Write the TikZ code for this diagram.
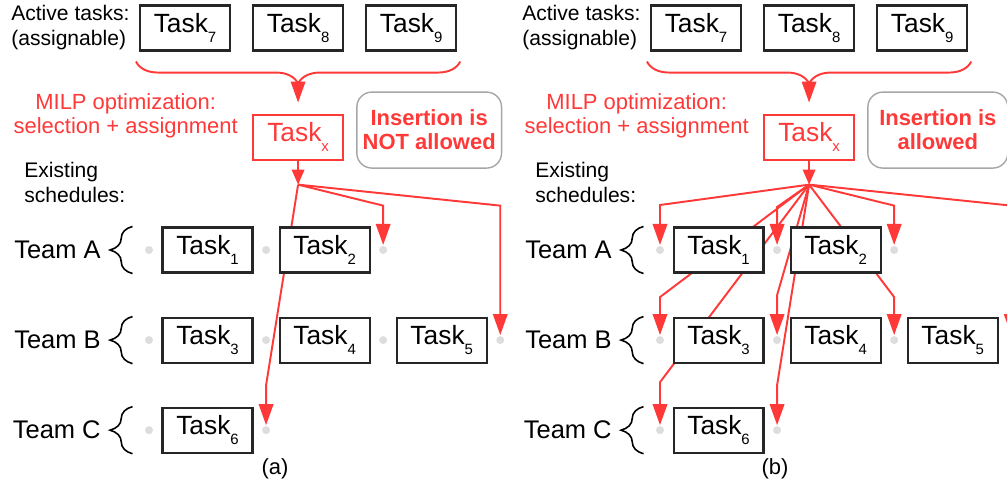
\documentclass[tikz,border=0pt]{standalone}
\usepackage{fontspec}
\setmainfont{Liberation Sans}
\usetikzlibrary{matrix,positioning,calc,arrows.meta,decorations.pathreplacing}
\definecolor{milp}{RGB}{255,56,56}
\definecolor{slotgray}{RGB}{221,221,221}
\newcommand{\tsk}[1]{Task\raisebox{-0.38em}{\fontsize{8.5}{9}\selectfont#1}}
\pgfdeclarelayer{back}
\pgfsetlayers{back,main}

\begin{document}
\begin{tikzpicture}[x=0.02cm,y=-0.02cm,
	task/.style={draw=black!85,line width=1.2pt,fill=white,minimum width=1.8cm,minimum height=0.9cm,inner sep=1pt,font=\fontsize{15}{18}\selectfont},
	slot/.style={circle,draw=none,fill=slotgray,minimum size=0.16cm,inner sep=0pt},
	lbl/.style={font=\fontsize{12}{14.2}\selectfont,align=left,inner sep=0pt},
	team/.style={font=\fontsize{14.5}{17}\selectfont,inner sep=0pt},
	ins/.style={draw=milp,line width=1.1pt,-{Triangle[length=0.42cm,width=0.29cm]}},
	teambrace/.style={decorate,decoration={brace,amplitude=0.45cm},line width=0.9pt}]
\useasboundingbox (0,0) rectangle (1007,486);
\foreach \p/\dx/\ok/\lx in {a/0/NOT allowed/275,b/511/allowed/775}{
	% active tasks
	\matrix (t\p) [matrix of nodes,nodes={task,anchor=center},column sep=0.42cm,ampersand replacement=\&,matrix anchor=t\p-1-1.center] at (\dx+185,28)
	{ \tsk{7} \& \tsk{8} \& \tsk{9} \\ };
	\node[lbl,anchor=east] (\p-act) at ($(t\p-1-1.west)+(-9,0)$) {Active tasks:\\(assignable)};
	% existing schedules
	\matrix (s\p) [matrix of nodes,nodes={task,anchor=center},column sep=0.17cm,row sep=0.86cm,ampersand replacement=\&,matrix anchor=s\p-1-1.center] at (\dx+149,250)
	{
		|[slot]| \& \tsk{1} \& |[slot]| \& \tsk{2} \& |[slot]| \\
		|[slot]| \& \tsk{3} \& |[slot]| \& \tsk{4} \& |[slot]| \& \tsk{5} \& |[slot]| \\
		|[slot]| \& \tsk{6} \& |[slot]| \\
	};
	\node[lbl,anchor=west] (\p-exist) at (\dx+24,182) {Existing\\schedules:};
	\foreach \r/\tm in {1/A,2/B,3/C}{
		\node[team,anchor=east] (\p-team\tm) at ($(s\p-\r-1)+(-48,0)$) {Team \tm};
		\draw[teambrace] ($(s\p-\r-2.south west)+(-29,0)$) -- ($(s\p-\r-2.north west)+(-29,0)$);
	}
	% selected task
	\node[task,draw=milp,text=milp,below=1.24cm of t\p-1-2] (\p-taskx) {\tsk{x}};
	\node[lbl,align=center,text=milp,font=\fontsize{12.5}{13.8}\selectfont,anchor=east] (\p-milp) at ($(\p-taskx.west)+(-14,-21)$) {MILP optimization:\\selection + assignment};
	\node[draw=black!35,line width=0.8pt,rounded corners=0.3cm,minimum width=2.8cm,minimum height=1.52cm,align=center,text=milp,font=\bfseries\fontsize{12.5}{13.6}\selectfont,anchor=west] (\p-rule) at ($(\p-taskx.east)+(12,-7)$) {Insertion is\\\ok};
	\draw[milp,line width=1.1pt,decorate,decoration={brace,amplitude=0.44cm}] ($(t\p-1-3.south east)+(3,10)$) -- ($(t\p-1-1.south west)+(-3,10)$);
	\coordinate (\p-fork) at ($(t\p-1-2.south)+(0,32)$);
	\draw[ins,shorten >=0.22cm] (\p-fork) -- (\p-taskx);
	\coordinate (\p-hub) at ($(\p-taskx.south)+(0,24)$);
	\coordinate (\p-knee) at ($(\p-hub)+(0,21)$);
	\draw[ins,-{Triangle[length=0.3cm,width=0.25cm]}] (\p-taskx) -- (\p-hub);
	\node[font=\fontsize{12.5}{15}\selectfont] (\p-cap) at (\lx,469) {(\p)};
}
\begin{pgfonlayer}{back}
	% (a) only after the last task
	\draw[ins] (a-hub) -- (sa-1-5 |- a-knee) -- (sa-1-5.north);
	\draw[ins] (a-hub) -- (sa-2-7 |- a-knee) -- (sa-2-7.north);
	\draw[ins] (a-hub) -- ($(sa-3-3)+(0,-45)$) -- (sa-3-3.north);
	% (b) any gap
	\draw[ins] (b-hub) -- ($(sb-1-1)+(0,-45)$) -- (sb-1-1.north);
	\draw[ins] (b-hub) -- ($(sb-1-3)+(0,-43)$) -- (sb-1-3.north);
	\draw[ins] (b-hub) -- (sb-1-5 |- b-knee) -- (sb-1-5.north);
	\draw[ins] (b-hub) -- ($(sb-2-1)+(0,-43)$) -- (sb-2-1.north);
	\draw[ins] (b-hub) -- ($(sb-2-3)+(0,-45)$) -- (sb-2-3.north);
	\draw[ins] (b-hub) -- ($(sb-2-5)+(0,-43)$) -- (sb-2-5.north);
	\draw[ins] (b-hub) -- (sb-2-7 |- b-knee) -- (sb-2-7.north);
	\draw[ins] (b-hub) -- ($(sb-3-1)+(0,-48)$) -- (sb-3-1.north);
	\draw[ins] (b-hub) -- ($(sb-3-3)+(0,-45)$) -- (sb-3-3.north);
\end{pgfonlayer}
\end{tikzpicture}
\end{document}
